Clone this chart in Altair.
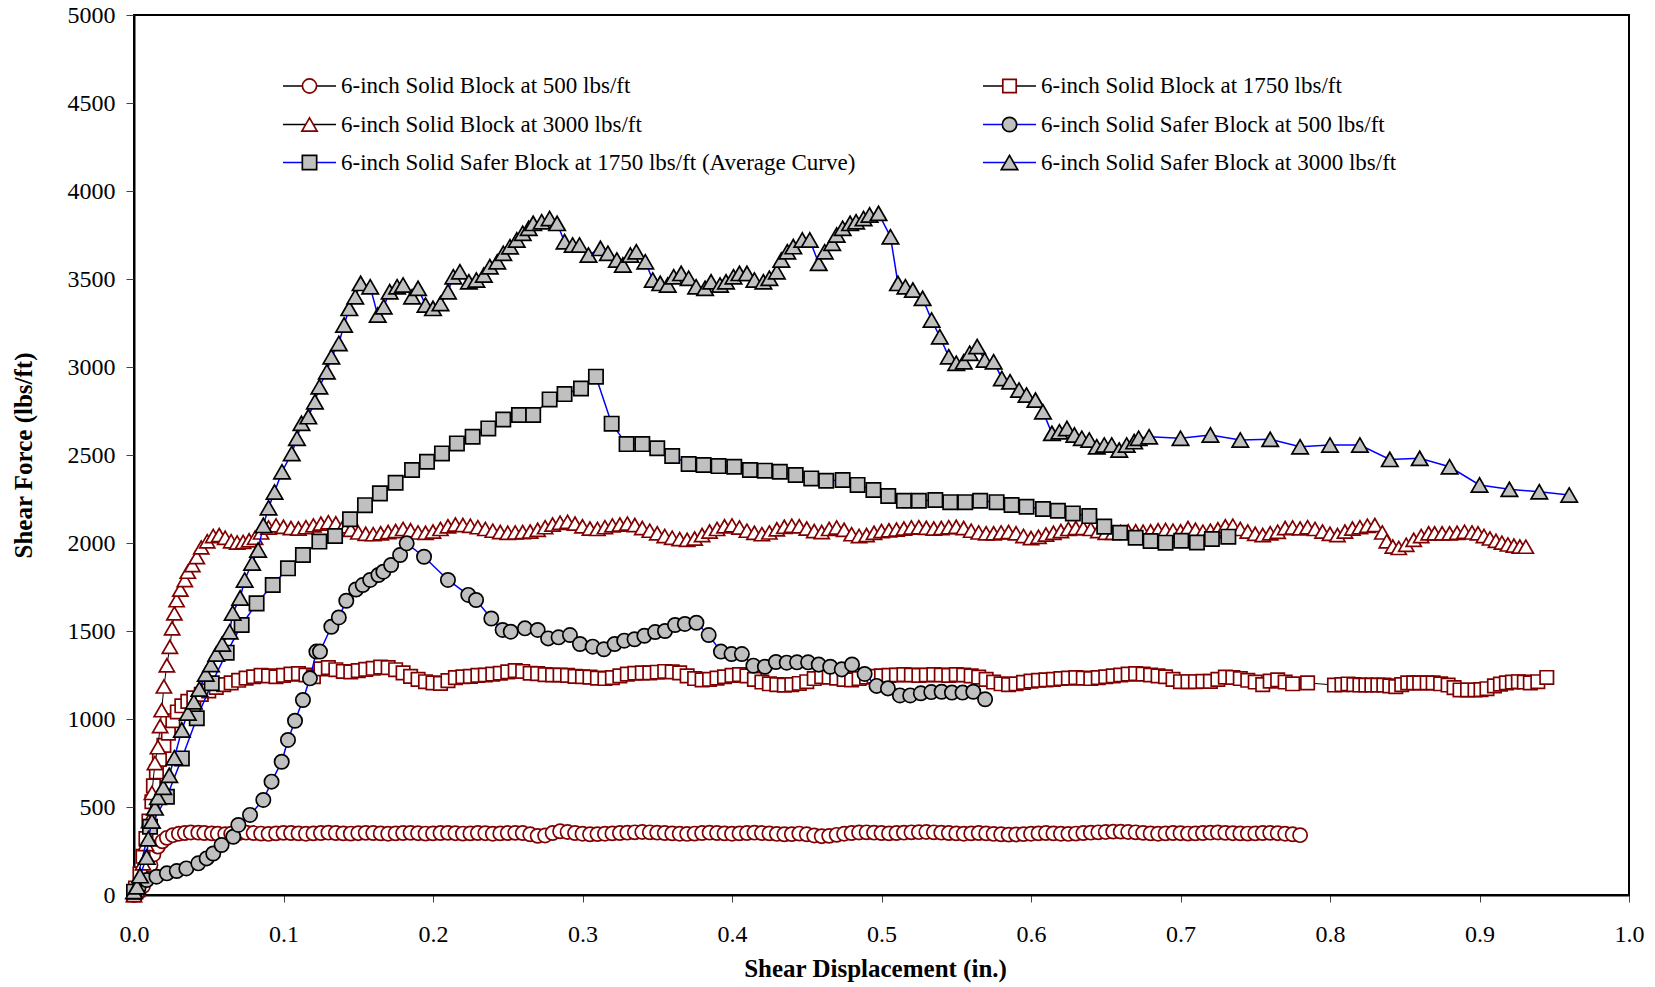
import altair as alt
import pandas as pd

FONT = "Liberation Serif"

# Shear displacement is stored in thousandths of an inch, shear force in lbs/ft.

# 6-inch Solid Block at 500 lbs/ft
solid500_x = [0, 3, 6, 9, 11, 13, 16, 19, 22, 26, 30, 34, 38, 43, 47, 52, 56, 61,
              65, 70, 75, 80, 85, 90, 95, 100, 105, 110,
              115, 120, 125, 130, 135, 140, 145, 150, 155, 160,
              165, 170, 175, 180, 185, 190, 195, 200, 205, 210,
              215, 220, 225, 230, 235, 240, 245, 250, 255, 260,
              265, 270, 275, 280, 285, 290, 295, 300, 305, 310,
              315, 320, 325, 330, 335, 340, 345, 350, 355, 360,
              365, 370, 375, 380, 385, 390, 395, 400, 405, 410,
              415, 420, 425, 430, 435, 440, 445, 450, 455, 460,
              465, 470, 475, 480, 485, 490, 495, 500, 505, 510,
              515, 520, 525, 530, 535, 540, 545, 550, 555, 560,
              565, 570, 575, 580, 585, 590, 595, 600, 605, 610,
              615, 620, 625, 630, 635, 640, 645, 650, 655, 660,
              665, 670, 675, 680, 685, 690, 695, 700, 705, 710,
              715, 720, 725, 730, 735, 740, 745, 750, 755, 760,
              765, 770, 775, 780]
solid500_y = [0, 15, 50, 110, 170, 230, 275, 305, 325, 340, 348, 352, 355, 354, 352, 350, 348, 346,
              348, 352, 354, 352, 349, 347, 350, 353, 352, 350,
              348, 350, 352, 354, 352, 350, 349, 351, 353, 352,
              350, 348, 350, 352, 353, 351, 349, 350, 352, 353,
              351, 349, 350, 352, 351, 348, 350, 352, 353, 352,
              345, 336, 338, 352, 362, 358, 352, 348, 345, 346,
              348, 350, 352, 354, 356, 358, 356, 354, 352, 350,
              348, 347, 349, 352, 354, 352, 350, 348, 350, 352,
              354, 352, 350, 347, 345, 346, 349, 345, 338, 334,
              336, 342, 348, 352, 355, 356, 354, 352, 350, 352,
              354, 356, 357, 358, 356, 354, 352, 350, 348, 350,
              352, 350, 347, 345, 343, 344, 346, 348, 350, 352,
              350, 348, 347, 349, 352, 354, 356, 358, 360, 360,
              358, 356, 353, 350, 348, 350, 352, 351, 349, 350,
              352, 354, 355, 353, 351, 350, 349, 350, 352, 353,
              351, 348, 345, 340]

# 6-inch Solid Block at 1750 lbs/ft
solid1750_x = [0, 1, 4, 6, 8, 10, 12, 13, 15, 17,
               20, 23, 26, 29, 32, 36, 40, 45, 50, 55,
               60, 65, 70, 75, 80, 85, 90, 95, 100, 105,
               110, 115, 120, 125, 130, 135, 140, 145, 150, 155,
               160, 165, 170, 175, 180, 185, 190, 195, 200, 205,
               210, 215, 220, 225, 230, 235, 240, 245, 250, 255,
               260, 265, 270, 275, 280, 285, 290, 295, 300, 305,
               310, 315, 320, 325, 330, 335, 340, 345, 350, 355,
               360, 365, 370, 375, 380, 385, 390, 395, 400, 405,
               410, 415, 420, 425, 430, 435, 440, 445, 450, 455,
               460, 465, 470, 475, 480, 485, 490, 495, 500, 505,
               510, 515, 520, 525, 530, 535, 540, 545, 550, 555,
               560, 565, 570, 575, 580, 585, 590, 595, 600, 605,
               610, 615, 620, 625, 630, 635, 640, 645, 650, 655,
               660, 665, 670, 675, 680, 685, 690, 695, 700, 705,
               710, 715, 720, 725, 730, 735, 740, 745, 750, 755,
               760, 765, 770, 775, 785, 803, 808, 812, 816, 820,
               824, 828, 832, 836, 840, 844, 848, 852, 856, 860,
               865, 869, 874, 879, 883, 887, 892, 897, 901, 905,
               910, 914, 918, 922, 926, 930, 934, 939, 945]
solid1750_y = [0, 40, 120, 220, 320, 420, 530, 620, 700, 770,
               850, 920, 990, 1040, 1075, 1100, 1120, 1140, 1160, 1180,
               1195, 1205, 1220, 1232, 1240, 1248, 1245, 1240, 1248, 1255,
               1258, 1250, 1240, 1285, 1292, 1280, 1270, 1268, 1275, 1282,
               1288, 1295, 1292, 1280, 1262, 1242, 1225, 1212, 1205, 1202,
               1218, 1235, 1240, 1242, 1248, 1250, 1255, 1260, 1268, 1275,
               1270, 1260, 1258, 1252, 1250, 1250, 1248, 1242, 1240, 1238,
               1232, 1230, 1235, 1245, 1255, 1260, 1262, 1262, 1266, 1270,
               1268, 1262, 1245, 1230, 1222, 1225, 1232, 1240, 1248, 1252,
               1245, 1225, 1210, 1200, 1195, 1192, 1195, 1202, 1212, 1230,
               1240, 1238, 1232, 1225, 1222, 1230, 1238, 1242, 1245, 1248,
               1250, 1252, 1250, 1248, 1250, 1252, 1250, 1248, 1252, 1250,
               1245, 1238, 1225, 1210, 1200, 1195, 1200, 1208, 1215, 1220,
               1222, 1225, 1230, 1232, 1235, 1232, 1230, 1235, 1240, 1245,
               1250, 1255, 1258, 1255, 1250, 1245, 1240, 1225, 1212, 1212,
               1212, 1214, 1214, 1225, 1238, 1236, 1230, 1220, 1210, 1195,
               1215, 1222, 1210, 1200, 1205, 1193, 1195, 1199, 1195, 1193,
               1193, 1193, 1193, 1193, 1188, 1184, 1195, 1205, 1205, 1205,
               1205, 1205, 1200, 1193, 1178, 1165, 1165, 1165, 1167, 1172,
               1188, 1198, 1205, 1210, 1212, 1210, 1205, 1212, 1236]

# 6-inch Solid Block at 3000 lbs/ft
solid3000_x = [0, 2, 4, 6, 8, 10, 12, 14, 16, 17.5,
               18.5, 20, 22, 24, 25.5, 27, 28.5, 31, 34, 36,
               39, 42, 45, 49, 53, 57, 61, 65, 69, 73,
               77, 81, 85, 90,
               95, 100, 105, 110, 115, 120, 125, 130, 135, 140,
               145, 150, 155, 160, 165, 170, 175, 180, 185, 190,
               195, 200, 205, 210, 215, 220, 225, 230, 235, 240,
               245, 250, 255, 260, 265, 270, 275, 280, 285, 290,
               295, 300, 305, 310, 315, 320, 325, 330, 335, 340,
               345, 350, 355, 360, 365, 370, 375, 380, 385, 390,
               395, 400, 405, 410, 415, 420, 425, 430, 435, 440,
               445, 450, 455, 460, 465, 470, 475, 480, 485, 490,
               495, 500, 505, 510, 515, 520, 525, 530, 535, 540,
               545, 550, 555, 560, 565, 570, 575, 580, 585, 590,
               595, 600, 605, 610, 615, 620, 625, 630, 635, 640,
               645, 650, 655, 660, 665, 670, 675, 680, 685, 690,
               695, 700, 705, 710, 715, 720, 725, 730, 735, 740,
               745, 750, 755, 760, 765, 770, 775, 780, 785, 790,
               795, 800, 805, 810, 815, 820, 825, 830,
               835, 838, 842, 846, 851, 856, 861, 866, 870, 875,
               880, 885, 890, 895, 899, 903, 907, 911, 915, 919,
               923, 927, 931]
solid3000_y = [0, 30, 90, 180, 290, 420, 580, 750, 840, 960,
               1050, 1185, 1305, 1410, 1515, 1600, 1675, 1735, 1790, 1837,
               1875, 1920, 1975, 2010, 2040, 2045, 2030, 2010, 2003, 2006,
               2015, 2030, 2060, 2088,
               2100, 2092, 2085, 2082, 2090, 2100, 2110, 2118, 2112, 2095,
               2075, 2060, 2052, 2050, 2055, 2062, 2068, 2080, 2072, 2060,
               2058, 2065, 2080, 2095, 2105, 2102, 2098, 2090, 2080, 2070,
               2062, 2058, 2060, 2062, 2065, 2075, 2090, 2105, 2115, 2120,
               2110, 2095, 2082, 2080, 2090, 2100, 2105, 2110, 2102, 2085,
               2070, 2055, 2040, 2030, 2022, 2018, 2025, 2045, 2065, 2080,
               2095, 2100, 2088, 2070, 2058, 2050, 2060, 2078, 2092, 2098,
               2095, 2082, 2068, 2062, 2080, 2088, 2075, 2050, 2040, 2045,
               2058, 2068, 2072, 2076, 2082, 2088, 2090, 2086, 2082, 2085,
               2090, 2092, 2085, 2070, 2060, 2055, 2055, 2060, 2062, 2055,
               2040, 2028, 2035, 2048, 2058, 2068, 2080, 2085, 2085, 2080,
               2068, 2058, 2058, 2062, 2066, 2066, 2064, 2066, 2072, 2074,
               2070, 2066, 2085, 2075, 2064, 2070, 2078, 2095, 2098, 2080,
               2065, 2052, 2045, 2055, 2064, 2085, 2088, 2083, 2090, 2080,
               2065, 2052, 2045, 2065, 2082, 2090, 2098, 2102,
               2060, 2010, 1980, 1972, 1990, 2018, 2040, 2055, 2055, 2055,
               2055, 2058, 2064, 2060, 2055, 2040, 2026, 2012, 2002, 1992,
               1985, 1980, 1979]

# 6-inch Solid Safer Block at 500 lbs/ft
safer500_x = [3, 8.5, 15, 22, 28.6, 35, 43, 48.6, 53, 58.6,
              66.4, 69.8, 77.6, 86.5, 92, 98.8, 103, 107.7, 113, 117.7,
              122, 124.4, 132, 137, 142, 148.5, 153, 158, 163.5, 166.8,
              172, 178, 182.4, 194, 210, 223.6, 228.8, 239, 246.6, 252,
              261.5, 270, 277, 284, 291.6, 298.3, 306.8, 314.3, 321.5, 327.9,
              334.8, 341.4, 348.6, 355.2, 361.9, 368.5, 376.2, 384.4, 392.6, 399.7,
              406.6, 414.3, 422, 429.4, 436.6, 443.5, 450.9, 458, 465.7, 473.4,
              480.3, 488.7, 496.7, 504.3, 512.3, 519.2, 526.3, 533.3, 540.2, 547.1,
              554.2, 561.4, 569.3]
safer500_y = [40, 85, 104, 123, 136, 151, 180, 208, 236, 284,
              331, 398, 455, 540, 644, 757, 881, 990, 1108, 1231,
              1383, 1383, 1524, 1577, 1672, 1736, 1761, 1790, 1818, 1837,
              1875, 1932, 1998, 1922, 1790, 1705, 1676, 1571, 1506, 1496,
              1515, 1506, 1458, 1464, 1477, 1426, 1411, 1396, 1426, 1445,
              1453, 1473, 1494, 1500, 1534, 1540, 1547, 1477, 1383, 1369,
              1369, 1303, 1297, 1324, 1320, 1322, 1322, 1309, 1297, 1282,
              1310, 1256, 1188, 1174, 1134, 1134, 1146, 1153, 1155, 1150,
              1150, 1155, 1112]

# 6-inch Solid Safer Block at 1750 lbs/ft (average curve)
safer1750_x = [0, 10.7, 22, 32, 42, 52, 62, 72, 82, 92.8,
               103, 113, 124, 134.5, 144.5, 154.5, 164.5, 175, 186, 196,
               206, 216, 226.5, 237, 247, 257.5, 267, 278, 288, 299,
               309, 319.5, 329.5, 340, 350, 360, 371, 381, 391, 401.5,
               412, 422, 432, 442.6, 453, 463, 474, 484, 494.6, 504.5,
               515, 525, 536, 546, 556, 566, 577, 587, 597, 608,
               618, 628, 639, 649, 659.6, 670, 680, 690, 700.5, 711,
               721, 732]
safer1750_y = [19, 388, 558, 776, 1004, 1203, 1377, 1534, 1657, 1761,
               1856, 1932, 2008, 2040, 2135, 2215, 2282, 2342, 2415, 2462,
               2509, 2566, 2604, 2651, 2702, 2727, 2727, 2816, 2846, 2878,
               2945, 2678, 2562, 2562, 2538, 2494, 2449, 2443, 2437, 2433,
               2415, 2411, 2405, 2386, 2367, 2354, 2358, 2330, 2301, 2267,
               2240, 2240, 2244, 2232, 2232, 2240, 2232, 2216, 2206, 2193,
               2183, 2168, 2153, 2093, 2058, 2030, 2011, 2002, 2013, 2003,
               2023, 2036]

# 6-inch Solid Safer Block at 3000 lbs/ft
safer3000_x = [0, 2, 4, 8.5, 9.6, 12, 14, 16, 19.6, 23.6,
               27, 32, 36, 40, 43.7, 48, 51.5, 55, 59, 64,
               66, 71, 74, 79, 83, 86.5, 90, 94, 99, 105.5,
               109, 112, 116.6, 121, 124, 129, 132, 137, 140.5, 144,
               148, 151.6, 158, 163, 167, 171, 176, 180, 186, 190,
               195, 200, 205, 210, 213.6, 218, 224, 229, 234, 238,
               243, 247, 251.5, 256, 260, 264, 267, 272.7, 278, 283,
               288, 293.4, 298, 304, 312, 317, 323, 327, 332, 336,
               342, 347, 352, 357, 361, 366, 371, 376, 382, 386,
               392, 396, 401, 405, 410, 415, 421, 425, 430, 433,
               437, 441, 447, 452, 458, 462, 467, 470, 474, 479,
               483, 488, 492, 498, 506, 511, 516, 521, 527.5, 533.5,
               539, 545, 550, 555, 559, 564, 569, 575, 580.5, 586,
               592, 597, 603, 608, 614, 619, 624, 629, 634, 639,
               644, 649, 654, 659, 664, 669, 672, 679, 700, 720,
               740, 760, 780, 800, 820, 840, 860, 880, 900, 920,
               940, 960]
safer3000_y = [20, 47, 110, 215, 320, 420, 495, 555, 612, 680,
               780, 938, 1034, 1098, 1170, 1256, 1310, 1369, 1426, 1496,
               1602, 1688, 1790, 1886, 1960, 2100, 2200, 2290, 2405, 2509,
               2595, 2680, 2718, 2803, 2888, 2973, 3058, 3134, 3239, 3333,
               3399, 3475, 3456, 3295, 3342, 3428, 3456, 3466, 3399, 3447,
               3352, 3333, 3361, 3428, 3513, 3541, 3484, 3494, 3523, 3570,
               3598, 3646, 3683, 3722, 3760, 3788, 3816, 3825, 3844, 3816,
               3712, 3693, 3693, 3636, 3674, 3646, 3608, 3580, 3636, 3655,
               3598, 3494, 3475, 3466, 3513, 3532, 3504, 3456, 3447, 3484,
               3466, 3484, 3513, 3532, 3532, 3494, 3484, 3504, 3541, 3608,
               3655, 3684, 3722, 3722, 3589, 3655, 3703, 3750, 3788, 3816,
               3825, 3844, 3864, 3873, 3740, 3475, 3456, 3437, 3390, 3267,
               3172, 3058, 3021, 3030, 3078, 3116, 3040, 3030, 2935, 2916,
               2869, 2841, 2812, 2746, 2623, 2632, 2651, 2614, 2595, 2585,
               2547, 2557, 2557, 2528, 2557, 2576, 2595, 2604, 2595, 2614,
               2585, 2589, 2547, 2557, 2557, 2475, 2481, 2433, 2330, 2305,
               2291, 2273]

x_ticks = [0.0, 0.1, 0.2, 0.3, 0.4, 0.5, 0.6, 0.7, 0.8, 0.9, 1.0]
y_ticks = [0, 500, 1000, 1500, 2000, 2500, 3000, 3500, 4000, 4500, 5000]

DARK_RED = "#800000"
GRAY = "#c0c0c0"
BLUE = "#0000ff"

# label, x, y, shape, marker fill, marker stroke, line colour, line width, marker size
series = [
    ("6-inch Solid Block at 500 lbs/ft", solid500_x, solid500_y,
     "circle", "white", DARK_RED, "black", 1.0, 200),
    ("6-inch Solid Block at 1750 lbs/ft", solid1750_x, solid1750_y,
     "square", "white", DARK_RED, "black", 1.0, 180),
    ("6-inch Solid Block at 3000 lbs/ft", solid3000_x, solid3000_y,
     "triangle-up", "white", DARK_RED, "black", 1.0, 230),
    ("6-inch Solid Safer Block at 500 lbs/ft", safer500_x, safer500_y,
     "circle", GRAY, "black", BLUE, 1.5, 205),
    ("6-inch Solid Safer Block at 1750 lbs/ft (Average Curve)", safer1750_x, safer1750_y,
     "square", GRAY, "black", BLUE, 1.5, 205),
    ("6-inch Solid Safer Block at 3000 lbs/ft", safer3000_x, safer3000_y,
     "triangle-up", GRAY, "black", BLUE, 1.5, 270),
]

WIDTH, HEIGHT = 1495, 880

x_enc = alt.X(
    "disp:Q",
    scale=alt.Scale(domain=[0, 1], nice=False, zero=False),
    axis=alt.Axis(
        values=x_ticks, format=".1f", title="Shear Displacement (in.)",
        labelFont=FONT, labelFontSize=24, labelColor="black", labelPadding=20,
        labelFlush=False, labelOverlap=False,
        tickSize=7, tickColor="#444", tickWidth=1,
        domainColor="black", domainWidth=2, grid=False,
        titleFont=FONT, titleFontSize=25, titleFontWeight="bold", titleColor="black",
        titleX=741, titleY=73, titleBaseline="middle", titleAlign="center",
    ),
)
y_enc = alt.Y(
    "force:Q",
    scale=alt.Scale(domain=[0, 5000], nice=False),
    axis=alt.Axis(
        values=y_ticks, format="d", title="Shear Force (lbs/ft)",
        labelFont=FONT, labelFontSize=24, labelColor="black", labelPadding=11,
        labelFlush=False, labelOverlap=False,
        tickSize=8, tickColor="#444", tickWidth=1,
        domainColor="black", domainWidth=2, grid=False,
        titleFont=FONT, titleFontSize=25, titleFontWeight="bold", titleColor="black",
        titleX=-111, titleY=HEIGHT / 2, titleAngle=-90, titleBaseline="middle",
        titleAlign="center",
    ),
)

layers = []
for label, xs, ys, shape, fill, stroke, line_color, line_width, size in series:
    df = pd.DataFrame({"disp": [v / 1000 for v in xs], "force": ys})
    layers.append(
        alt.Chart(df).mark_line(color=line_color, strokeWidth=line_width)
        .encode(x=x_enc, y=y_enc)
    )
    layers.append(
        alt.Chart(df).mark_point(
            shape=shape, filled=True, fill=fill, stroke=stroke, strokeWidth=1.7,
            size=size, opacity=1, fillOpacity=1, strokeOpacity=1,
        ).encode(x=x_enc, y=y_enc)
    )

# In-plot legend: two columns, three rows, each entry a line sample with its marker
legend_col_x = [149, 849]
legend_row_y = [71, 109.5, 147.5]
sample_len = 53
one_row = pd.DataFrame({"k": [0]})
for i, (label, xs, ys, shape, fill, stroke, line_color, line_width, size) in enumerate(series):
    x0 = legend_col_x[i % 2]
    yy = legend_row_y[i // 2]
    layers.append(
        alt.Chart(one_row).mark_rule(color=line_color, strokeWidth=max(line_width, 1.5))
        .encode(x=alt.value(x0), x2=alt.value(x0 + sample_len), y=alt.value(yy))
    )
    layers.append(
        alt.Chart(one_row).mark_point(
            shape=shape, filled=True, fill=fill, stroke=stroke, strokeWidth=1.7,
            size=size, opacity=1, fillOpacity=1, strokeOpacity=1,
        ).encode(x=alt.value(x0 + sample_len / 2), y=alt.value(yy))
    )
    layers.append(
        alt.Chart(one_row).mark_text(
            text=label, align="left", baseline="middle", font=FONT,
            fontSize=23, color="black",
        ).encode(x=alt.value(x0 + 58), y=alt.value(yy))
    )

chart = (
    alt.layer(*layers)
    .properties(
        width=WIDTH, height=HEIGHT,
        autosize=alt.AutoSizeParams(type="none"),
        padding={"left": 134, "top": 15, "right": 26, "bottom": 92},
        background="white",
    )
    .configure_view(stroke="black", strokeWidth=2)
)

chart.save("out.html", embed_options={"renderer": "svg", "actions": False})
